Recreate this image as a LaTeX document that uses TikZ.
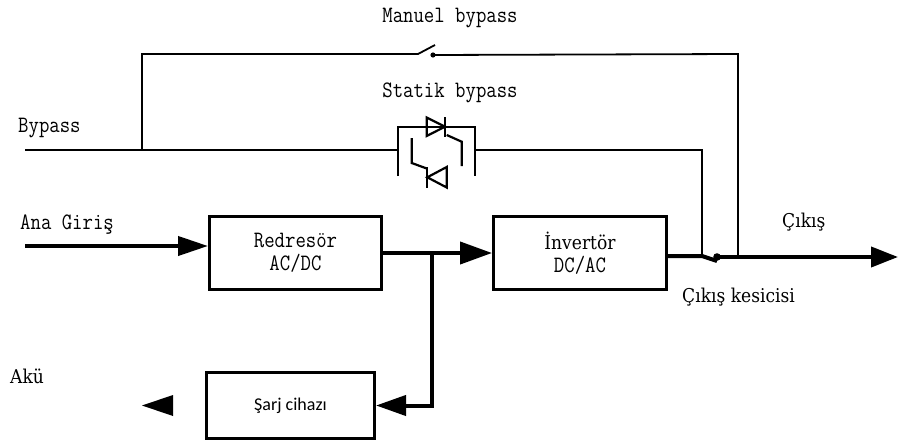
\documentclass[tikz,border=0pt]{standalone}
\usepackage{fontspec}
\usetikzlibrary{arrows.meta}
\newfontfamily\monofnt[FakeStretch=0.86]{Latin Modern Mono}
\newfontfamily\seriffnt[FakeStretch=0.9]{DejaVu Serif}
\newfontfamily\sansfnt{Carlito}
\tikzset{
  lblmono/.style={font=\monofnt\fontsize{23.5}{23}\selectfont, inner sep=0pt},
  lblserif/.style={font=\seriffnt\fontsize{19}{23}\selectfont, inner sep=0pt},
  lblsans/.style={font=\sansfnt\fontsize{18}{22}\selectfont, inner sep=0pt},
  blk/.style={draw, line width=3pt, inner sep=0pt, align=center},
  thickln/.style={line width=4pt},
  thinln/.style={line width=1.8pt},
  scrln/.style={line width=2.2pt, line join=miter},
  arrA/.style={-{Triangle[length=30pt,width=19pt]}},
  arrB/.style={-{Triangle[length=32pt,width=22pt]}},
  arrC/.style={-{Triangle[length=30pt,width=20pt]}},
  arrD/.style={-{Triangle[length=27pt,width=20pt]}},
}
\begin{document}
\begin{tikzpicture}[x=1pt,y=-1pt]
\useasboundingbox (0,0) rectangle (899,444);

% blocks
\node[blk, lblmono, minimum width=172pt, minimum height=73pt] (rect) at (295.5,253) {Redresör\\AC/DC};
\node[blk, lblmono, minimum width=173pt, minimum height=73pt] (inv) at (580,253) {{\seriffnt\fontsize{19}{23}\selectfont İnvertör}\\DC/AC};
\node[blk, lblsans, minimum width=168pt, minimum height=66pt] (chg) at (290.5,405.5) {Şarj cihazı};

% labels
\node[lblmono, anchor=base] (tman) at (450,23) {Manuel bypass};
\node[lblmono, anchor=base] (tstat) at (450,97) {Statik bypass};
\node[lblmono, anchor=base west] (tbyp) at (18,132) {Bypass};
\node[lblmono, anchor=base west] (tana) at (20,229) {Ana Giriş};
\node[lblserif, anchor=base west] (taku) at (10,383) {Akü};
\node[lblserif, anchor=base west] (tout) at (782,227) {Çıkış};
\node[lblserif, anchor=base west] (tsw) at (682,302) {Çıkış kesicisi};

% coordinates
\coordinate (ain) at (25,246);
\coordinate (j) at (432,253);
\coordinate (sw1) at (702,256);
\coordinate (sw2) at (717,261);
\coordinate (swd) at (717,257);
\coordinate (out) at (898,257);
\coordinate (akutip) at (142,405.5);
\coordinate (mbl) at (142,54);
\coordinate (mb1) at (418,54);
\coordinate (mb2) at (435,45);
\coordinate (mbd) at (433,55);
\coordinate (mbr) at (738,54);
\coordinate (mbo) at (738,257);
\coordinate (bin) at (25,150);
\coordinate (bj) at (142,150);
\coordinate (scrl) at (398,150);
\coordinate (scrr) at (475,150);
\coordinate (sbr) at (702,150);

% main power path
\draw[thickln, arrA] (ain) -- (ain -| rect.west);
\draw[thickln, arrB] (rect.east) -- (inv.west);
\draw[thickln, arrC] (j) |- (chg.east);
\draw[thickln] (inv.east |- sw1) -- (sw1) -- (sw2);
\fill (swd) circle (3.8);
\draw[thickln, arrD] (swd) -- (out);

% battery arrow
\fill (akutip) -- ++(31,-10.5) -- ++(0,21) -- cycle;

% manual bypass
\draw[thinln] (bj) -- (mbl) -- (mb1) -- (mb2);
\fill (mbd) circle (2.6);
\draw[thinln] (mbd) -- (mbr) -- (mbo);

% static bypass line
\draw[thinln] (bin) -- (scrl);
\draw[thinln] (scrr) -- (sbr) -- (sw1);

% SCR pair
\draw[scrln] (398,176) -- (398,127) -- (475,127) -- (475,176);
\draw[scrln] (426.7,117.5) -- (445,126.7) -- (426.7,136) -- cycle;
\draw[scrln] (445,117) -- (445,137);
\draw[scrln] (446.7,135) -- (461.7,141.7) -- (461.7,166);
\draw[scrln] (427.3,177.3) -- (446.7,167) -- (446.7,187.5) -- cycle;
\draw[scrln] (427.3,167) -- (427.3,187.5);
\draw[scrln] (426.7,168.5) -- (411.7,163) -- (411.7,138);
\end{tikzpicture}
\end{document}
